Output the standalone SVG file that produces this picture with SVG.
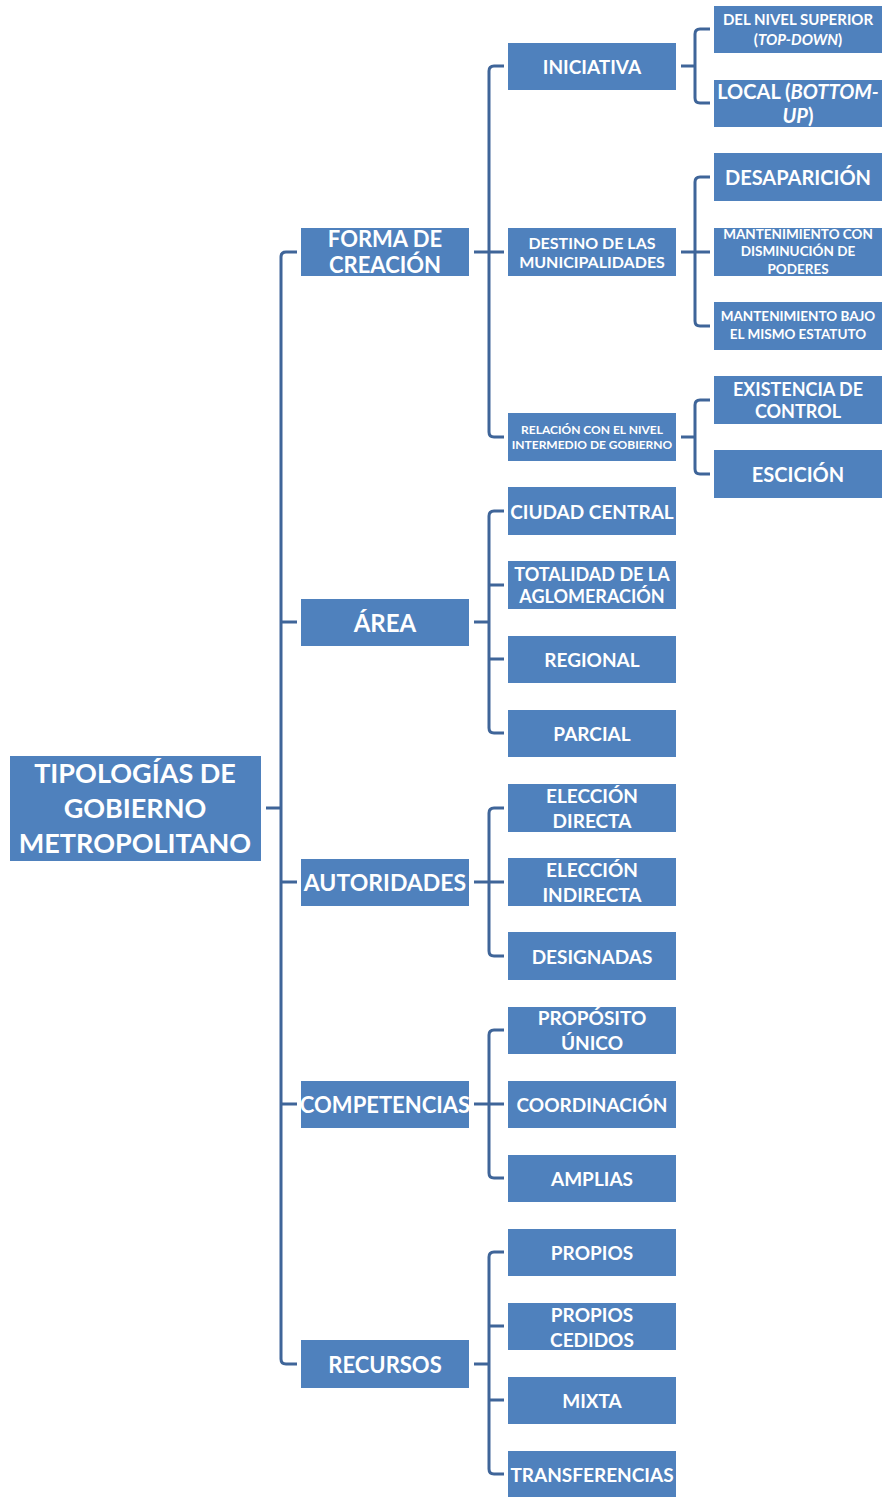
<svg xmlns="http://www.w3.org/2000/svg" width="882" height="1497" viewBox="0 0 882 1497">
  <style>
    .box { fill: #4F81BD; }
    .t { fill: #FFFFFF; font-family: Lato, "Open Sans", "Liberation Sans", sans-serif; font-weight: bold; text-anchor: middle; dominant-baseline: central; }
    .ln { fill: none; stroke: #3F6599; stroke-width: 3; stroke-linecap: butt; stroke-linejoin: round; }
    .i { font-style: italic; }
  </style>
  <rect width="882" height="1497" fill="#FFFFFF"/>

  <!-- connectors -->
  <g id="connectors" class="ln">
    <!-- root to level 1 -->
    <path d="M266,808 H281"/>
    <path d="M297,252 H286 Q281,252 281,257 V1359 Q281,1364 286,1364 H297"/>
    <path d="M281,622 H297 M281,882 H297 M281,1104 H297"/>
    <!-- forma de creacion -->
    <path d="M474,252 H489"/>
    <path d="M504,66 H494 Q489,66 489,71 V432 Q489,437 494,437 H504 M489,252 H504"/>
    <!-- area -->
    <path d="M474,622 H489"/>
    <path d="M504,511 H494 Q489,511 489,516 V728 Q489,733 494,733 H504 M489,585 H504 M489,659 H504"/>
    <!-- autoridades -->
    <path d="M474,882 H489"/>
    <path d="M504,808 H494 Q489,808 489,813 V951 Q489,956 494,956 H504 M489,882 H504"/>
    <!-- competencias -->
    <path d="M474,1104 H489"/>
    <path d="M504,1030 H494 Q489,1030 489,1035 V1173 Q489,1178 494,1178 H504 M489,1104 H504"/>
    <!-- recursos -->
    <path d="M474,1364 H489"/>
    <path d="M504,1252 H494 Q489,1252 489,1257 V1469 Q489,1474 494,1474 H504 M489,1326 H504 M489,1400 H504"/>
    <!-- iniciativa -->
    <path d="M681,66 H695"/>
    <path d="M710,29 H700 Q695,29 695,34 V98 Q695,103 700,103 H710"/>
    <!-- destino -->
    <path d="M681,252 H695"/>
    <path d="M710,177 H700 Q695,177 695,182 V321 Q695,326 700,326 H710 M695,252 H710"/>
    <!-- relacion -->
    <path d="M681,437 H695"/>
    <path d="M710,400 H700 Q695,400 695,405 V469 Q695,474 700,474 H710"/>
  </g>

  <!-- root -->
  <g id="root">
    <rect class="box" x="10" y="756" width="251" height="105"/>
    <text class="t" x="135" y="772" font-size="27">TIPOLOGÍAS DE</text>
    <text class="t" x="135" y="807" font-size="27">GOBIERNO</text>
    <text class="t" x="135" y="842" font-size="27">METROPOLITANO</text>
  </g>

  <!-- level 1 -->
  <g id="forma">
    <rect class="box" x="301" y="228" width="168" height="48"/>
    <text class="t" x="385" y="238" font-size="22">FORMA DE</text>
    <text class="t" x="385" y="264" font-size="22">CREACIÓN</text>
  </g>
  <g id="area">
    <rect class="box" x="301" y="599" width="168" height="47"/>
    <text class="t" x="385" y="622" font-size="24">ÁREA</text>
  </g>
  <g id="autoridades">
    <rect class="box" x="301" y="859" width="168" height="47"/>
    <text class="t" x="385" y="882" font-size="23">AUTORIDADES</text>
  </g>
  <g id="competencias">
    <rect class="box" x="301" y="1081" width="168" height="47"/>
    <text class="t" x="385" y="1104" font-size="22">COMPETENCIAS</text>
  </g>
  <g id="recursos">
    <rect class="box" x="301" y="1340" width="168" height="48"/>
    <text class="t" x="385" y="1364" font-size="22">RECURSOS</text>
  </g>

  <!-- level 2 -->
  <g id="iniciativa">
    <rect class="box" x="508" y="43" width="168" height="47"/>
    <text class="t" x="592" y="66" font-size="19">INICIATIVA</text>
  </g>
  <g id="destino">
    <rect class="box" x="508" y="228" width="168" height="48"/>
    <text class="t" x="592" y="242" font-size="16">DESTINO DE LAS</text>
    <text class="t" x="592" y="261" font-size="16">MUNICIPALIDADES</text>
  </g>
  <g id="relacion">
    <rect class="box" x="508" y="413" width="168" height="48"/>
    <text class="t" x="592" y="429" font-size="12">RELACIÓN CON EL NIVEL</text>
    <text class="t" x="592" y="444" font-size="12">INTERMEDIO DE GOBIERNO</text>
  </g>
  <g id="ciudad-central">
    <rect class="box" x="508" y="487" width="168" height="48"/>
    <text class="t" x="592" y="511" font-size="19">CIUDAD CENTRAL</text>
  </g>
  <g id="totalidad">
    <rect class="box" x="508" y="561" width="168" height="48"/>
    <text class="t" x="592" y="574" font-size="18">TOTALIDAD DE LA</text>
    <text class="t" x="592" y="596" font-size="18">AGLOMERACIÓN</text>
  </g>
  <g id="regional">
    <rect class="box" x="508" y="636" width="168" height="47"/>
    <text class="t" x="592" y="659" font-size="19">REGIONAL</text>
  </g>
  <g id="parcial">
    <rect class="box" x="508" y="710" width="168" height="47"/>
    <text class="t" x="592" y="733" font-size="19">PARCIAL</text>
  </g>
  <g id="eleccion-directa">
    <rect class="box" x="508" y="784" width="168" height="48"/>
    <text class="t" x="592" y="795" font-size="19">ELECCIÓN</text>
    <text class="t" x="592" y="820" font-size="19">DIRECTA</text>
  </g>
  <g id="eleccion-indirecta">
    <rect class="box" x="508" y="858" width="168" height="48"/>
    <text class="t" x="592" y="869" font-size="19">ELECCIÓN</text>
    <text class="t" x="592" y="894" font-size="19">INDIRECTA</text>
  </g>
  <g id="designadas">
    <rect class="box" x="508" y="932" width="168" height="48"/>
    <text class="t" x="592" y="956" font-size="19">DESIGNADAS</text>
  </g>
  <g id="proposito-unico">
    <rect class="box" x="508" y="1007" width="168" height="47"/>
    <text class="t" x="592" y="1017" font-size="19">PROPÓSITO</text>
    <text class="t" x="592" y="1042" font-size="19">ÚNICO</text>
  </g>
  <g id="coordinacion">
    <rect class="box" x="508" y="1081" width="168" height="47"/>
    <text class="t" x="592" y="1104" font-size="19">COORDINACIÓN</text>
  </g>
  <g id="amplias">
    <rect class="box" x="508" y="1155" width="168" height="47"/>
    <text class="t" x="592" y="1178" font-size="19">AMPLIAS</text>
  </g>
  <g id="propios">
    <rect class="box" x="508" y="1229" width="168" height="47"/>
    <text class="t" x="592" y="1252" font-size="19">PROPIOS</text>
  </g>
  <g id="propios-cedidos">
    <rect class="box" x="508" y="1303" width="168" height="47"/>
    <text class="t" x="592" y="1314" font-size="19">PROPIOS</text>
    <text class="t" x="592" y="1339" font-size="19">CEDIDOS</text>
  </g>
  <g id="mixta">
    <rect class="box" x="508" y="1377" width="168" height="47"/>
    <text class="t" x="592" y="1400" font-size="19">MIXTA</text>
  </g>
  <g id="transferencias">
    <rect class="box" x="508" y="1451" width="168" height="46"/>
    <text class="t" x="592" y="1474" font-size="19">TRANSFERENCIAS</text>
  </g>

  <!-- level 3 -->
  <g id="nivel-superior">
    <rect class="box" x="714" y="6" width="168" height="47"/>
    <text class="t" x="798" y="19" font-size="15">DEL NIVEL SUPERIOR</text>
    <text class="t" x="798" y="39" font-size="15">(<tspan class="i">TOP-DOWN</tspan>)</text>
  </g>
  <g id="local">
    <rect class="box" x="714" y="80" width="168" height="47"/>
    <text class="t" x="798" y="91" font-size="20">LOCAL (<tspan class="i">BOTTOM-</tspan></text>
    <text class="t" x="798" y="115" font-size="20"><tspan class="i">UP</tspan>)</text>
  </g>
  <g id="desaparicion">
    <rect class="box" x="714" y="153" width="168" height="48"/>
    <text class="t" x="798" y="177" font-size="20">DESAPARICIÓN</text>
  </g>
  <g id="disminucion">
    <rect class="box" x="714" y="228" width="168" height="48"/>
    <text class="t" x="798" y="234" font-size="13.5">MANTENIMIENTO CON</text>
    <text class="t" x="798" y="251" font-size="13.5">DISMINUCIÓN DE</text>
    <text class="t" x="798" y="269" font-size="13.5">PODERES</text>
  </g>
  <g id="mismo-estatuto">
    <rect class="box" x="714" y="302" width="168" height="48"/>
    <text class="t" x="798" y="316" font-size="13.5">MANTENIMIENTO BAJO</text>
    <text class="t" x="798" y="334" font-size="13.5">EL MISMO ESTATUTO</text>
  </g>
  <g id="control">
    <rect class="box" x="714" y="376" width="168" height="48"/>
    <text class="t" x="798" y="389" font-size="18">EXISTENCIA DE</text>
    <text class="t" x="798" y="411" font-size="18">CONTROL</text>
  </g>
  <g id="escicion">
    <rect class="box" x="714" y="450" width="168" height="48"/>
    <text class="t" x="798" y="474" font-size="20">ESCICIÓN</text>
  </g>
</svg>
